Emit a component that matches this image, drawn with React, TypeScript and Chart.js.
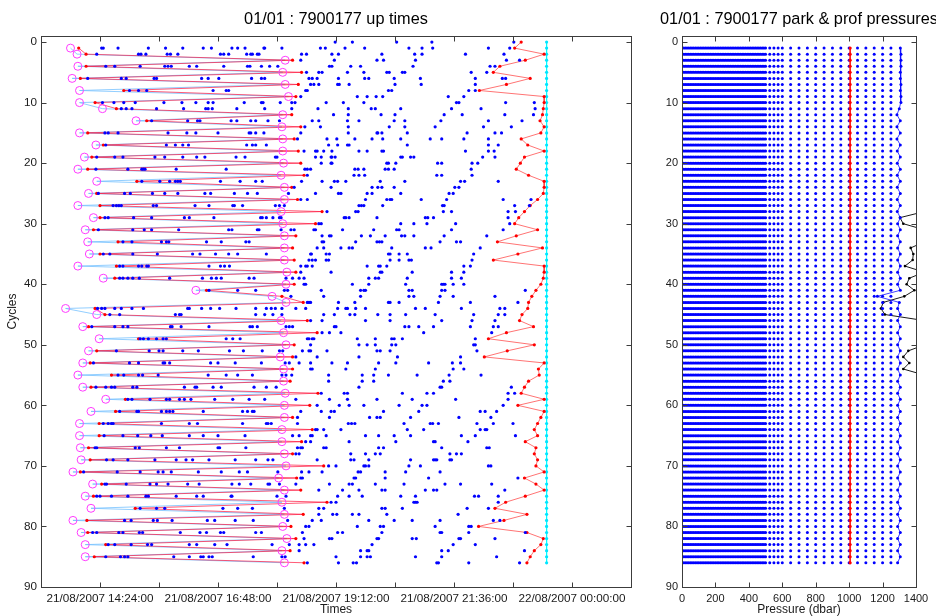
import React, { useEffect, useRef } from "react";
import { Chart, registerables } from "chart.js";

Chart.register(...registerables);

const FONT = '"Liberation Sans", Arial, Helvetica, sans-serif';

// ---------- Left panel: up times (minutes since 21/08/2007 00:00) ----------
const timeMin = 792; // 21/08/2007 13:12
const timeMax = 1512; // 22/08/2007 01:12
const timeTicks = [864, 936, 1008, 1080, 1152, 1224, 1296, 1368, 1440];
const timeLabelled = [864, 1008, 1152, 1296, 1440];
const cycleTicks = [0, 10, 20, 30, 40, 50, 60, 70, 80, 90];

// message reception times per cycle (cycle 0 .. 86)
const messageTimes: number[][] = [
  [1151, 1172, 1226, 1269, 1369],
  [866, 868, 886, 923, 944, 965, 990, 1000, 1025, 1032, 1041, 1064, 1065, 1086, 1133, 1139, 1163, 1187, 1241, 1257, 1270, 1338, 1364],
  [860, 911, 914, 920, 946, 950, 959, 1011, 1015, 1021, 1043, 1048, 1050, 1056, 1058, 1110, 1116, 1147, 1155, 1208, 1248, 1257, 1310, 1357],
  [1109, 1150, 1202, 1210, 1249, 1360, 1376],
  [871, 882, 913, 943, 947, 951, 973, 982, 1015, 1044, 1047, 1061, 1071, 1081, 1144, 1147, 1170, 1182, 1246, 1340, 1346],
  [1116, 1131, 1135, 1166, 1186, 1214, 1217, 1233, 1236, 1317, 1336],
  [849, 890, 896, 930, 933, 988, 996, 1009, 1049, 1061, 1065, 1119, 1123, 1129, 1155, 1187, 1192, 1223, 1255, 1322, 1355, 1359],
  [1121, 1125, 1131, 1154, 1156, 1168, 1224, 1256, 1322],
  [900, 911, 921, 1002, 1018, 1021, 1115, 1117, 1216, 1220, 1314, 1322],
  [1109, 1178, 1190, 1201, 1209, 1289, 1308],
  [867, 881, 893, 907, 942, 964, 981, 996, 1002, 1040, 1061, 1063, 1084, 1098, 1102, 1140, 1161, 1186, 1299, 1302, 1359, 1394],
  [890, 896, 903, 933, 966, 993, 996, 1001, 1031, 1065, 1098, 1130, 1167, 1195, 1200, 1231, 1293, 1329, 1395],
  [1149, 1167, 1207, 1224, 1284, 1306, 1358, 1393],
  [927, 971, 983, 986, 1024, 1031, 1048, 1054, 1069, 1083, 1123, 1131, 1166, 1180, 1223, 1236, 1280, 1338, 1379],
  [1114, 1133, 1167, 1217, 1236, 1273, 1332, 1366],
  [870, 874, 886, 947, 970, 981, 1008, 1046, 1048, 1054, 1064, 1109, 1167, 1202, 1203, 1208, 1239, 1312, 1346, 1354],
  [1105, 1141, 1153, 1175, 1196, 1209, 1231, 1267, 1281, 1308, 1338],
  [871, 945, 956, 965, 972, 1043, 1050, 1054, 1067, 1143, 1154, 1166, 1168, 1239, 1338, 1350],
  [1113, 1127, 1129, 1137, 1147, 1180, 1190, 1208, 1210, 1310, 1338, 1345],
  [860, 882, 892, 931, 943, 965, 982, 992, 1030, 1041, 1078, 1080, 1127, 1134, 1146, 1147, 1151, 1231, 1233, 1243, 1247, 1331, 1346],
  [1134, 1146, 1147, 1214, 1216, 1225, 1276, 1281, 1318, 1325],
  [859, 898, 915, 917, 919, 957, 1018, 1114, 1117, 1121, 1175, 1179, 1186, 1212, 1216, 1223, 1317],
  [1117, 1174, 1180, 1187, 1275, 1281, 1318],
  [915, 937, 949, 956, 959, 962, 1011, 1035, 1054, 1062, 1110, 1135, 1150, 1154, 1164, 1206, 1236, 1304, 1309, 1350],
  [1101, 1146, 1196, 1203, 1208, 1223, 1297, 1302],
  [862, 894, 901, 928, 943, 959, 992, 999, 1028, 1044, 1056, 1094, 1127, 1155, 1158, 1190, 1196, 1231, 1290, 1295],
  [1109, 1117, 1188, 1214, 1218, 1220, 1256, 1287, 1356, 1390],
  [880, 884, 887, 890, 929, 933, 980, 997, 1026, 1028, 1038, 1078, 1083, 1089, 1180, 1183, 1186, 1209, 1282, 1284, 1370, 1388],
  [1141, 1176, 1179, 1283, 1293, 1362, 1371],
  [870, 874, 905, 927, 967, 973, 1003, 1060, 1062, 1067, 1075, 1083, 1085, 1162, 1164, 1168, 1202, 1261, 1264, 1271, 1362],
  [1131, 1134, 1231, 1247, 1263, 1298, 1364],
  [862, 904, 918, 927, 960, 1021, 1025, 1056, 1058, 1085, 1097, 1101, 1125, 1127, 1160, 1198, 1226, 1229, 1293, 1356],
  [1135, 1144, 1146, 1183, 1194, 1212, 1232, 1236, 1247, 1284, 1336],
  [892, 903, 939, 945, 948, 994, 1012, 1042, 1046, 1135, 1137, 1176, 1202, 1205, 1208, 1279, 1299, 1304],
  [1129, 1137, 1158, 1168, 1172, 1220, 1261, 1268, 1328],
  [868, 876, 904, 934, 977, 986, 1005, 1021, 1032, 1067, 1121, 1122, 1140, 1144, 1216, 1218, 1229, 1239, 1320],
  [1119, 1123, 1127, 1140, 1143, 1218, 1229, 1241, 1244, 1318],
  [888, 892, 911, 915, 921, 923, 997, 1011, 1016, 1022, 1109, 1115, 1117, 1123, 1190, 1204, 1206, 1214, 1308, 1316],
  [1109, 1146, 1206, 1208, 1245, 1293, 1308],
  [888, 892, 898, 904, 912, 949, 989, 1000, 1006, 1012, 1046, 1052, 1091, 1099, 1107, 1113, 1192, 1200, 1204, 1239, 1293, 1305],
  [1113, 1115, 1172, 1192, 1237, 1281, 1283, 1285, 1295, 1308],
  [997, 1032, 1054, 1089, 1093, 1134, 1182, 1186, 1188, 1241, 1245, 1281, 1285, 1383],
  [1097, 1137, 1182, 1241, 1247, 1279, 1295, 1346],
  [1117, 1119, 1121, 1155, 1175, 1216, 1218, 1229, 1277, 1316, 1374],
  [861, 866, 870, 882, 890, 903, 917, 971, 973, 988, 999, 1010, 1030, 1054, 1067, 1073, 1078, 1086, 1103, 1115, 1154, 1164, 1166, 1176, 1188, 1249, 1261, 1305, 1352, 1358],
  [876, 888, 956, 961, 963, 1054, 1065, 1075, 1086, 1137, 1150, 1169, 1175, 1203, 1218, 1237, 1273, 1320, 1350, 1358],
  [1121, 1135, 1188, 1218, 1281, 1318, 1346],
  [854, 882, 892, 898, 950, 952, 963, 997, 1047, 1050, 1056, 1091, 1095, 1099, 1150, 1152, 1236, 1241, 1253, 1271, 1316, 1344, 1350],
  [1135, 1144, 1158, 1259, 1342],
  [913, 917, 923, 933, 941, 945, 1018, 1026, 1035, 1117, 1119, 1123, 1125, 1178, 1200, 1220, 1223, 1233, 1322],
  [1121, 1180, 1190, 1200, 1220, 1225, 1320, 1322],
  [884, 924, 936, 941, 965, 984, 1022, 1039, 1062, 1083, 1087, 1111, 1119, 1121, 1141, 1202, 1206, 1218, 1324],
  [1103, 1129, 1180, 1227, 1304],
  [856, 900, 911, 941, 943, 949, 999, 1008, 1029, 1061, 1090, 1095, 1107, 1121, 1147, 1166, 1204, 1225, 1265, 1294, 1304],
  [1121, 1123, 1164, 1200, 1295, 1308],
  [886, 893, 911, 916, 935, 996, 1018, 1032, 1050, 1086, 1091, 1098, 1143, 1184, 1198, 1216, 1251, 1290, 1329],
  [1143, 1184, 1198, 1283, 1291],
  [859, 871, 878, 882, 904, 909, 967, 980, 982, 1002, 1012, 1052, 1067, 1079, 1180, 1279, 1281, 1366],
  [1134, 1162, 1166, 1233, 1263, 1271, 1362, 1370],
  [898, 903, 925, 945, 949, 961, 967, 975, 1004, 1026, 1046, 1065, 1103, 1144, 1166, 1202, 1245, 1298, 1362],
  [1129, 1156, 1168, 1186, 1229, 1257, 1263, 1356],
  [888, 909, 911, 939, 945, 949, 953, 990, 1038, 1044, 1050, 1052, 1109, 1134, 1146, 1150, 1210, 1253, 1328, 1334, 1348],
  [1105, 1144, 1193, 1202, 1206, 1243, 1302, 1341],
  [868, 874, 878, 880, 939, 973, 983, 1038, 1067, 1069, 1073, 1105, 1167, 1171, 1175, 1235, 1267, 1270, 1277, 1324, 1344, 1368],
  [1127, 1129, 1137, 1158, 1239, 1259, 1328, 1334, 1336],
  [869, 892, 910, 926, 940, 973, 990, 1008, 1041, 1099, 1107, 1121, 1123, 1140, 1188, 1204, 1223, 1243, 1305, 1322, 1371],
  [1115, 1121, 1168, 1225, 1271, 1273, 1313],
  [858, 860, 907, 912, 945, 961, 1008, 1010, 1042, 1105, 1109, 1111, 1137, 1140, 1204, 1210, 1281, 1336, 1339],
  [1103, 1107, 1170, 1188, 1200, 1206, 1291, 1299, 1305],
  [872, 880, 898, 931, 957, 969, 977, 997, 1029, 1054, 1069, 1075, 1129, 1170, 1174, 1192, 1243, 1271, 1273, 1275, 1291, 1293],
  [1143, 1152, 1186, 1188, 1192, 1241, 1255, 1338, 1341],
  [844, 885, 913, 935, 941, 951, 984, 1012, 1034, 1044, 1081, 1110, 1119, 1135, 1179, 1182, 1212, 1237, 1279],
  [1109, 1111, 1174, 1176, 1212, 1265, 1374],
  [870, 872, 896, 925, 933, 947, 971, 985, 1025, 1034, 1048, 1069, 1071, 1083, 1103, 1144, 1168, 1172, 1200, 1235, 1285, 1304, 1342],
  [1131, 1160, 1180, 1208, 1212, 1261, 1271, 1275, 1358],
  [860, 864, 878, 898, 920, 923, 957, 982, 990, 1024, 1025, 1080, 1091, 1154, 1168, 1184, 1231, 1249, 1321, 1326, 1350],
  [1146, 1152, 1247, 1249, 1251, 1350],
  [913, 933, 943, 1014, 1032, 1050, 1089, 1131, 1137, 1208, 1212, 1233, 1312, 1338],
  [1131, 1148, 1153, 1172, 1180, 1214, 1301],
  [894, 902, 929, 934, 952, 995, 1004, 1029, 1051, 1093, 1123, 1134, 1192, 1223, 1245, 1279, 1344, 1352],
  [1115, 1119, 1178, 1206, 1210, 1273, 1314, 1317],
  [855, 860, 887, 892, 912, 916, 962, 986, 994, 1011, 1015, 1054, 1061, 1111, 1154, 1160, 1208, 1279, 1281, 1314, 1383],
  [1113, 1144, 1147, 1202, 1204, 1245, 1250, 1302, 1304, 1346],
  [874, 882, 902, 922, 927, 973, 982, 1004, 1019, 1074, 1095, 1107, 1115, 1125, 1196, 1295, 1322],
  [1107, 1182, 1190, 1192, 1281, 1289, 1382],
  [871, 889, 894, 898, 954, 973, 987, 990, 997, 1001, 1051, 1086, 1090, 1152, 1182, 1190, 1194, 1249, 1281, 1348],
  [1117, 1155, 1173, 1177, 1275, 1277, 1314, 1376],
];

// magenta circles (cycles 1 .. 86)
const circleTimes = [
  828, 836, 1090, 837, 1087, 830, 1090, 839, 1094, 839,
  867, 1087, 908, 1086, 839, 1087, 859, 1087, 845, 1088,
  837, 1085, 860, 1089, 850, 1089, 837, 1085, 856, 1087,
  846, 1089, 849, 1089, 851, 1089, 837, 1092, 868, 1091,
  981, 1074, 1091, 822, 860, 1085, 843, 1088, 863, 1091,
  850, 1084, 843, 1088, 837, 1088, 843, 1090, 871, 1089,
  853, 1089, 839, 1086, 839, 1086, 840, 1089, 841, 1091,
  831, 1082, 855, 1089, 846, 1086, 853, 1089, 831, 1087,
  841, 1092, 846, 1086, 846, 1089,
];

// first message time (cycles 1 .. 86)
const firstMsgTimes = [
  838, 847, 1099, 847, 1110, 840, 1106, 893, 1103, 858,
  884, 1098, 921, 1109, 849, 1101, 868, 1106, 854, 1109,
  849, 1113, 909, 1098, 860, 1105, 864, 1135, 864, 1127,
  856, 1103, 886, 1099, 864, 1101, 884, 1103, 882, 1101,
  994, 1086, 1112, 858, 870, 1117, 850, 1129, 911, 1101,
  860, 1099, 852, 1099, 878, 1096, 853, 1130, 895, 1120,
  883, 1099, 863, 1123, 863, 1110, 850, 1099, 852, 1137,
  840, 1104, 866, 1109, 856, 1141, 907, 1112, 848, 1097,
  849, 1103, 871, 1096, 857, 1113,
];

// last message time (cycles 0 .. 86)
const lastMsgTimes = [
  1378, 1370, 1406, 1383, 1352, 1344, 1389, 1360, 1327, 1406,
  1406, 1405, 1404, 1401, 1406, 1402, 1378, 1386, 1406, 1382,
  1377, 1372, 1387, 1406, 1406, 1405, 1398, 1389, 1382, 1375,
  1370, 1398, 1372, 1349, 1404, 1374, 1344, 1406, 1406, 1405,
  1402, 1396, 1391, 1387, 1386, 1379, 1376, 1393, 1360, 1338,
  1394, 1361, 1333, 1406, 1399, 1400, 1387, 1382, 1378, 1406,
  1374, 1406, 1402, 1398, 1394, 1398, 1383, 1396, 1394, 1398,
  1396, 1406, 1382, 1396, 1406, 1383, 1359, 1346, 1385, 1357,
  1326, 1385, 1405, 1402, 1394, 1389, 1385,
];

// end of transmission window (cycles 0 .. 86)
const endTimes = [
  1409, 1409, 1409, 1409, 1409, 1409, 1409, 1409, 1409, 1409,
  1409, 1409, 1409, 1409, 1409, 1409, 1409, 1409, 1409, 1409,
  1409, 1409, 1409, 1409, 1409, 1409, 1409, 1409, 1409, 1409,
  1409, 1409, 1409, 1409, 1409, 1409, 1409, 1409, 1409, 1409,
  1409, 1409, 1409, 1409, 1409, 1409, 1409, 1409, 1409, 1409,
  1409, 1409, 1409, 1409, 1409, 1409, 1409, 1409, 1409, 1409,
  1409, 1409, 1409, 1409, 1409, 1409, 1409, 1409, 1409, 1409,
  1409, 1409, 1409, 1409, 1409, 1409, 1409, 1409, 1409, 1409,
  1409, 1409, 1409, 1409, 1409, 1409, 1409,
];

// ---------- Right panel: park & profile pressures (dbar) ----------
const pressureTicks = [0, 200, 400, 600, 800, 1000, 1200, 1400];
const profileLevels = [
  0, 10, 20, 30, 40, 50, 60, 70, 80, 90, 100, 110, 120, 130, 140, 150, 160, 170, 180, 190,
  200, 210, 220, 230, 240, 250, 260, 270, 280, 290, 300, 310, 320, 330, 340, 350, 360, 370, 380, 390,
  400, 410, 420, 430, 440, 450, 460, 470, 480, 490, 500,
  525, 550, 575, 600, 650, 700, 750, 800, 850, 900, 950, 1000, 1050, 1100, 1150, 1200, 1250,
];

// park pressure (cycles 1 .. 86)
const parkPressures = [
  1006, 1006, 1006, 1006, 1006, 1006, 1006, 1006, 1006, 1006,
  1006, 1006, 1006, 1006, 1006, 1006, 1006, 1006, 1006, 1006,
  1006, 1006, 1006, 1006, 1006, 1006, 1006, 1006, 1006, 1006,
  1006, 1006, 1006, 1006, 1006, 1006, 1006, 1006, 1006, 1006,
  1006, 1006, 1006, 1006, 1006, 1006, 1006, 1006, 1006, 1006,
  1006, 1006, 1006, 1006, 1006, 1006, 1006, 1006, 1006, 1006,
  1006, 1006, 1006, 1006, 1006, 1006, 1006, 1006, 1006, 1006,
  1006, 1006, 1006, 1006, 1006, 1006, 1006, 1006, 1006, 1006,
  1006, 1006, 1006, 1006, 1006, 1006,
];

// profile start pressure (cycles 1 .. 86)
const profStartPressures = [
  1306, 1310, 1310, 1310, 1306, 1306, 1310, 1306, 1310, 1310,
  1300, 1286, 1306, 1286, 1306, 1286, 1306, 1288, 1306, 1288,
  1306, 1288, 1306, 1288, 1306, 1288, 1306, 1288, 1306, 1290,
  1306, 1290, 1306, 1290, 1306, 1290, 1306, 1290, 1306, 1290,
  1306, 1169, 1300, 1290, 1306, 1290, 1306, 1290, 1306, 1290,
  1306, 1290, 1306, 1290, 1306, 1290, 1306, 1290, 1306, 1290,
  1306, 1290, 1306, 1290, 1306, 1290, 1306, 1290, 1306, 1290,
  1306, 1290, 1306, 1290, 1306, 1290, 1306, 1290, 1306, 1290,
  1306, 1290, 1306, 1290, 1306, 1290,
];

// deepest pressure (black), only some cycles
const deepCycles = [28, 29, 30, 31, 32, 33, 34, 35, 36, 37, 38, 39, 40, 41, 42, 43, 44, 45, 46, 47, 50, 51, 52, 53, 54, 55];
const deepPressures = [1450, 1304, 1324, 1450, null, 1450, 1368, 1384, 1380, 1334, 1450, 1360, 1344, 1390, 1330, 1204, 1190, 1214, 1450, null, 1450, 1354, 1324, 1360, 1324, 1450];

// ---------- helpers ----------
const pad2 = (n: number) => String(n).padStart(2, "0");
const fmtTime = (m: number) => {
  const day = m >= 1440 ? 22 : 21;
  const mm = ((m % 1440) + 1440) % 1440;
  return `${day}/08/2007 ${pad2(Math.floor(mm / 60))}:${pad2(Math.round(mm % 60))}:00`;
};

function framePlugin(title: string, xTicks: number[], yTicks: number[]) {
  return {
    id: "matlabFrame",
    afterDraw(chart: any) {
      const { ctx, chartArea: a, scales } = chart;
      ctx.save();
      ctx.strokeStyle = "#3c3c3c";
      ctx.lineWidth = 1;
      const L = Math.round(a.left) + 0.5, R = Math.round(a.right) + 0.5;
      const T = Math.round(a.top) + 0.5, B = Math.round(a.bottom) + 0.5;
      ctx.strokeRect(L, T, R - L, B - T);
      ctx.beginPath();
      for (const v of xTicks) {
        const p = Math.round(scales.x.getPixelForValue(v)) + 0.5;
        ctx.moveTo(p, B); ctx.lineTo(p, B - 5);
        ctx.moveTo(p, T); ctx.lineTo(p, T + 5);
      }
      for (const v of yTicks) {
        const p = Math.round(scales.y.getPixelForValue(v)) + 0.5;
        ctx.moveTo(L, p); ctx.lineTo(L + 5, p);
        ctx.moveTo(R, p); ctx.lineTo(R - 5, p);
      }
      ctx.stroke();
      ctx.fillStyle = "#000";
      ctx.font = `16.3px ${FONT}`;
      ctx.textAlign = "center";
      ctx.textBaseline = "alphabetic";
      ctx.fillText(title, (a.left + a.right) / 2, 24);
      ctx.restore();
    },
  };
}

function yScale(withTitle: boolean, width: number, fontSize: number) {
  return {
    type: "linear",
    min: -1,
    max: 90,
    reverse: true,
    grid: { display: false, drawTicks: false },
    border: { display: false },
    afterBuildTicks: (s: any) => { s.ticks = cycleTicks.map((v) => ({ value: v })); },
    afterFit: (s: any) => { s.width = width; },
    ticks: { padding: 4, color: "#1a1a1a", font: { family: FONT, size: fontSize }, callback: (v: number) => String(v) },
    title: {
      display: withTitle,
      text: "Cycles",
      color: "#1a1a1a",
      font: { family: FONT, size: 12, lineHeight: 1 },
      padding: { top: 7, bottom: 0 },
    },
  };
}

function leftConfig(): any {
  const blueDots = messageTimes.flatMap((row, c) => row.map((t) => ({ x: t, y: c })));
  const circlePts = circleTimes.map((t, i) => ({ x: t, y: i + 1 }));
  const firstPts = firstMsgTimes.map((t, i) => ({ x: t, y: i + 1 }));
  const lastPts = lastMsgTimes.map((t, i) => ({ x: t, y: i }));
  const endPts = endTimes.map((t, i) => ({ x: t, y: i }));
  return {
    type: "scatter",
    data: {
      datasets: [
        { label: "ascent end", data: circlePts, showLine: false, pointRadius: 4, pointStyle: "circle",
          pointBorderColor: "#ff3cff", pointBackgroundColor: "rgba(0,0,0,0)", pointBorderWidth: 1, order: 0 },
        { label: "messages", data: blueDots, showLine: false, pointRadius: 1.6,
          pointBackgroundColor: "#0000ff", pointBorderWidth: 0, order: 1 },
        { label: "first message", data: firstPts, showLine: true, borderColor: "rgba(255,20,60,0.7)", borderWidth: 1,
          pointRadius: 1.6, pointBackgroundColor: "#ff0000", pointBorderWidth: 0, order: 2 },
        { label: "last message", data: lastPts, showLine: true, borderColor: "rgba(255,0,0,0.55)", borderWidth: 1,
          pointRadius: 1.6, pointBackgroundColor: "#ff0000", pointBorderWidth: 0, order: 2 },
        { label: "ascent line", data: circlePts, showLine: true, borderColor: "rgba(110,190,255,0.75)", borderWidth: 1,
          pointRadius: 0, order: 3 },
        { label: "end", data: endPts, showLine: true, borderColor: "#00ffff", borderWidth: 1,
          pointRadius: 1.6, pointBackgroundColor: "#00e5ff", pointBorderWidth: 0, order: 3 },
      ],
    },
    options: {
      animation: false,
      responsive: false,
      maintainAspectRatio: false,
      devicePixelRatio: 1,
      layout: { padding: { top: 36, right: 9, bottom: 0, left: 0 } },
      plugins: { legend: { display: false }, tooltip: { enabled: false }, title: { display: false } },
      scales: {
        x: {
          type: "linear",
          min: timeMin,
          max: timeMax,
          grid: { display: false, drawTicks: false },
          border: { display: false },
          afterBuildTicks: (s: any) => { s.ticks = timeTicks.map((v) => ({ value: v })); },
          afterFit: (s: any) => { s.height = 29; },
          ticks: {
            autoSkip: false, maxRotation: 0, minRotation: 0, padding: 5, color: "#1a1a1a",
            font: { family: FONT, size: 11.7 },
            callback: (v: number) => (timeLabelled.includes(v) ? fmtTime(v) : ""),
          },
          title: { display: true, text: "Times", color: "#1a1a1a", font: { family: FONT, size: 12, lineHeight: 1 },
            padding: { top: 0, bottom: 0 } },
        },
        y: yScale(true, 41, 11.7),
      },
    },
    plugins: [framePlugin("01/01 : 7900177 up times", timeTicks, cycleTicks)],
  };
}

function rightConfig(): any {
  const profilePts = parkPressures.flatMap((_, i) => profileLevels.map((p) => ({ x: p, y: i + 1 })));
  const parkPts = parkPressures.map((p, i) => ({ x: p, y: i + 1 }));
  const startPts = profStartPressures.map((p, i) => ({ x: p, y: i + 1 }));
  const deepPts = deepPressures.map((p, i) => ({ x: p, y: deepCycles[i] }));
  return {
    type: "scatter",
    data: {
      datasets: [
        { label: "park", data: parkPts, showLine: true, borderColor: "rgba(255,0,0,0.8)", borderWidth: 1,
          pointRadius: 1.6, pointBackgroundColor: "#ff0000", pointBorderWidth: 0, order: 0, clip: 0 },
        { label: "profile", data: profilePts, showLine: false, pointRadius: 1.5,
          pointBackgroundColor: "#0000ff", pointBorderWidth: 0, order: 1, clip: 0 },
        { label: "profile start", data: startPts, showLine: true, borderColor: "rgba(0,0,255,0.75)", borderWidth: 1,
          pointRadius: 1.5, pointBackgroundColor: "#0000ff", pointBorderWidth: 0, order: 1, clip: 0 },
        { label: "deepest", data: deepPts, showLine: true, borderColor: "#1a1a1a", borderWidth: 1, spanGaps: false,
          pointRadius: 1.3, pointBackgroundColor: "#000", pointBorderWidth: 0, order: 2, clip: 0 },
      ],
    },
    options: {
      animation: false,
      responsive: false,
      maintainAspectRatio: false,
      devicePixelRatio: 1,
      layout: { padding: { top: 36, right: 20, bottom: 0, left: 0 } },
      plugins: { legend: { display: false }, tooltip: { enabled: false }, title: { display: false } },
      scales: {
        x: {
          type: "linear",
          min: 0,
          max: 1400,
          grid: { display: false, drawTicks: false },
          border: { display: false },
          afterBuildTicks: (s: any) => { s.ticks = pressureTicks.map((v) => ({ value: v })); },
          afterFit: (s: any) => { s.height = 29; },
          ticks: { autoSkip: false, maxRotation: 0, minRotation: 0, padding: 5, color: "#1a1a1a",
            font: { family: FONT, size: 11 }, callback: (v: number) => String(v) },
          title: { display: true, text: "Pressure (dbar)", color: "#1a1a1a",
            font: { family: FONT, size: 12, lineHeight: 1 }, padding: { top: 0, bottom: 0 } },
        },
        y: yScale(false, 42, 11),
      },
    },
    plugins: [framePlugin("01/01 : 7900177 park & prof pressures", pressureTicks, cycleTicks)],
  };
}

function ChartCanvas(props: { make: () => any; left: number; width: number; height: number }) {
  const ref = useRef<HTMLCanvasElement | null>(null);
  useEffect(() => {
    if (!ref.current) return;
    const chart = new Chart(ref.current, props.make());
    return () => chart.destroy();
  }, []);
  return (
    <canvas
      ref={ref}
      width={props.width}
      height={props.height}
      style={{ position: "absolute", left: props.left, top: 0, width: props.width, height: props.height, display: "block" }}
    />
  );
}

export default function App() {
  return (
    <div style={{ position: "fixed", left: 0, top: 0, width: 936, height: 616, background: "#fff", overflow: "hidden" }}>
      <ChartCanvas make={leftConfig} left={0} width={640} height={616} />
      <ChartCanvas make={rightConfig} left={640} width={296} height={616} />
    </div>
  );
}
